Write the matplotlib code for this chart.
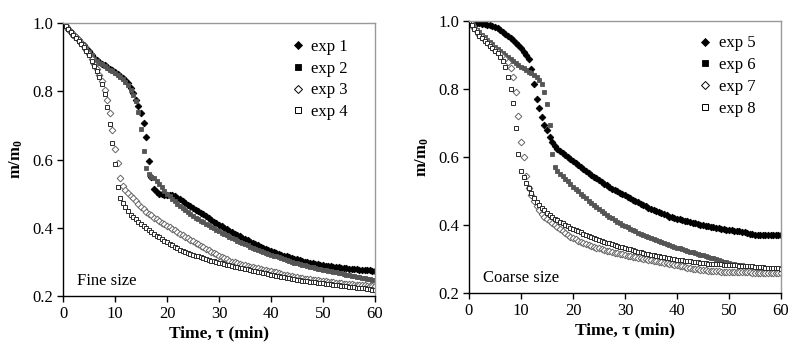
import numpy as np
import matplotlib
matplotlib.use("Agg")
import matplotlib.pyplot as plt
from matplotlib.lines import Line2D

plt.rcParams['font.family'] = ['Liberation Serif', 'DejaVu Serif']
plt.rcParams['mathtext.fontset'] = 'custom'
plt.rcParams['mathtext.rm'] = 'Liberation Serif'
plt.rcParams['mathtext.bf'] = 'Liberation Serif:bold'

# time grid (min)
time_min = np.arange(0, 60.5, 0.5)

exp1 = [1.000, 0.991, 0.983, 0.974, 0.965, 0.958, 0.950, 0.942, 0.935, 0.927,
        0.918, 0.907, 0.897, 0.891, 0.886, 0.881, 0.876, 0.870, 0.865, 0.861,
        0.856, 0.851, 0.845, 0.839, 0.832, 0.823, 0.810, 0.795, 0.775, 0.756,
        0.735, 0.706, 0.665, 0.595, 0.550, 0.515, 0.505, 0.500, 0.498, 0.497,
        0.497, 0.497, 0.496, 0.492, 0.488, 0.483, 0.478, 0.473, 0.468, 0.463,
        0.458, 0.453, 0.448, 0.444, 0.439, 0.433, 0.428, 0.423, 0.418, 0.413,
        0.409, 0.404, 0.400, 0.395, 0.391, 0.387, 0.383, 0.379, 0.375, 0.371,
        0.367, 0.363, 0.359, 0.355, 0.352, 0.348, 0.345, 0.342, 0.339, 0.336,
        0.333, 0.330, 0.327, 0.324, 0.321, 0.318, 0.316, 0.313, 0.311, 0.309,
        0.307, 0.305, 0.303, 0.301, 0.299, 0.297, 0.296, 0.294, 0.293, 0.291,
        0.290, 0.289, 0.288, 0.287, 0.286, 0.285, 0.284, 0.283, 0.282, 0.281,
        0.280, 0.279, 0.278, 0.278, 0.277, 0.276, 0.276, 0.275, 0.275, 0.274,
        0.273]
exp2 = [1.000, 0.990, 0.982, 0.973, 0.964, 0.956, 0.948, 0.940, 0.932, 0.924,
        0.915, 0.905, 0.895, 0.889, 0.884, 0.879, 0.874, 0.868, 0.863, 0.858,
        0.853, 0.848, 0.842, 0.836, 0.828, 0.818, 0.805, 0.789, 0.770, 0.740,
        0.690, 0.625, 0.575, 0.558, 0.550, 0.545, 0.538, 0.528, 0.518, 0.508,
        0.499, 0.492, 0.485, 0.477, 0.470, 0.463, 0.457, 0.451, 0.445, 0.440,
        0.434, 0.430, 0.425, 0.420, 0.416, 0.411, 0.407, 0.402, 0.398, 0.394,
        0.390, 0.386, 0.382, 0.378, 0.374, 0.370, 0.366, 0.362, 0.359, 0.355,
        0.352, 0.348, 0.345, 0.342, 0.339, 0.336, 0.333, 0.330, 0.327, 0.324,
        0.321, 0.318, 0.316, 0.313, 0.311, 0.308, 0.306, 0.303, 0.301, 0.298,
        0.296, 0.294, 0.292, 0.290, 0.288, 0.286, 0.284, 0.282, 0.280, 0.278,
        0.277, 0.275, 0.274, 0.272, 0.271, 0.269, 0.268, 0.266, 0.265, 0.263,
        0.262, 0.260, 0.259, 0.257, 0.256, 0.254, 0.253, 0.251, 0.250, 0.248,
        0.247]
exp3 = [1.000, 0.990, 0.982, 0.975, 0.967, 0.958, 0.950, 0.941, 0.932, 0.921,
        0.908, 0.894, 0.879, 0.864, 0.849, 0.830, 0.805, 0.775, 0.735, 0.685,
        0.630, 0.590, 0.545, 0.522, 0.512, 0.503, 0.494, 0.486, 0.477, 0.469,
        0.461, 0.454, 0.447, 0.441, 0.436, 0.430, 0.425, 0.420, 0.415, 0.410,
        0.406, 0.401, 0.397, 0.392, 0.388, 0.383, 0.379, 0.374, 0.370, 0.365,
        0.361, 0.356, 0.352, 0.347, 0.343, 0.338, 0.334, 0.330, 0.326, 0.322,
        0.318, 0.314, 0.310, 0.307, 0.304, 0.301, 0.299, 0.297, 0.295, 0.292,
        0.290, 0.288, 0.286, 0.284, 0.283, 0.281, 0.279, 0.277, 0.276, 0.274,
        0.272, 0.270, 0.269, 0.267, 0.265, 0.263, 0.262, 0.260, 0.259, 0.257,
        0.256, 0.254, 0.253, 0.251, 0.250, 0.249, 0.248, 0.247, 0.246, 0.245,
        0.244, 0.243, 0.242, 0.241, 0.240, 0.239, 0.238, 0.237, 0.236, 0.235,
        0.235, 0.234, 0.233, 0.233, 0.232, 0.231, 0.231, 0.230, 0.229, 0.229,
        0.228]
exp4 = [1.000, 0.990, 0.981, 0.973, 0.965, 0.956, 0.948, 0.939, 0.930, 0.918,
        0.905, 0.890, 0.875, 0.860, 0.842, 0.820, 0.792, 0.755, 0.705, 0.648,
        0.588, 0.520, 0.488, 0.472, 0.460, 0.448, 0.438, 0.431, 0.425, 0.418,
        0.412, 0.406, 0.400, 0.394, 0.388, 0.382, 0.377, 0.372, 0.367, 0.362,
        0.357, 0.352, 0.348, 0.344, 0.340, 0.336, 0.333, 0.330, 0.327, 0.324,
        0.321, 0.318, 0.316, 0.313, 0.311, 0.308, 0.306, 0.304, 0.302, 0.300,
        0.298, 0.296, 0.294, 0.292, 0.290, 0.288, 0.286, 0.284, 0.283, 0.281,
        0.279, 0.278, 0.276, 0.274, 0.273, 0.271, 0.270, 0.268, 0.267, 0.265,
        0.263, 0.262, 0.260, 0.259, 0.257, 0.256, 0.254, 0.253, 0.251, 0.250,
        0.248, 0.247, 0.245, 0.244, 0.243, 0.242, 0.241, 0.240, 0.239, 0.238,
        0.237, 0.236, 0.235, 0.234, 0.233, 0.232, 0.231, 0.230, 0.229, 0.228,
        0.227, 0.226, 0.225, 0.224, 0.223, 0.223, 0.222, 0.221, 0.220, 0.219,
        0.218]
exp5 = [1.000, 0.998, 0.996, 0.994, 0.993, 0.991, 0.990, 0.988, 0.987, 0.985,
        0.983, 0.979, 0.974, 0.969, 0.963, 0.957, 0.951, 0.944, 0.936, 0.928,
        0.920, 0.910, 0.900, 0.887, 0.860, 0.815, 0.772, 0.745, 0.717, 0.695,
        0.680, 0.660, 0.643, 0.633, 0.625, 0.618, 0.612, 0.606, 0.600, 0.594,
        0.588, 0.582, 0.576, 0.570, 0.564, 0.558, 0.553, 0.547, 0.542, 0.537,
        0.532, 0.527, 0.522, 0.517, 0.512, 0.507, 0.503, 0.499, 0.495, 0.491,
        0.487, 0.483, 0.479, 0.475, 0.471, 0.467, 0.463, 0.459, 0.455, 0.451,
        0.447, 0.443, 0.440, 0.437, 0.434, 0.431, 0.428, 0.425, 0.423, 0.421,
        0.419, 0.417, 0.415, 0.413, 0.411, 0.409, 0.407, 0.405, 0.403, 0.401,
        0.399, 0.397, 0.396, 0.394, 0.393, 0.391, 0.390, 0.388, 0.387, 0.386,
        0.385, 0.384, 0.383, 0.382, 0.381, 0.380, 0.378, 0.376, 0.375, 0.373,
        0.372, 0.371, 0.370, 0.370, 0.370, 0.370, 0.370, 0.370, 0.370, 0.370,
        0.370]
exp6 = [1.000, 0.990, 0.982, 0.975, 0.968, 0.960, 0.952, 0.945, 0.938, 0.931,
        0.925, 0.918, 0.912, 0.906, 0.900, 0.894, 0.888, 0.882, 0.876, 0.871,
        0.866, 0.861, 0.856, 0.851, 0.846, 0.840, 0.834, 0.827, 0.815, 0.790,
        0.755, 0.695, 0.610, 0.570, 0.560, 0.551, 0.543, 0.535, 0.528, 0.520,
        0.513, 0.506, 0.499, 0.492, 0.485, 0.478, 0.472, 0.465, 0.459, 0.453,
        0.447, 0.441, 0.436, 0.430, 0.425, 0.420, 0.415, 0.410, 0.405, 0.401,
        0.397, 0.393, 0.389, 0.385, 0.381, 0.377, 0.374, 0.370, 0.367, 0.364,
        0.361, 0.358, 0.355, 0.352, 0.349, 0.346, 0.343, 0.340, 0.338, 0.335,
        0.333, 0.331, 0.329, 0.326, 0.324, 0.322, 0.320, 0.317, 0.315, 0.313,
        0.311, 0.309, 0.307, 0.304, 0.302, 0.299, 0.297, 0.294, 0.292, 0.290,
        0.288, 0.286, 0.285, 0.283, 0.282, 0.281, 0.280, 0.279, 0.278, 0.277,
        0.276, 0.275, 0.275, 0.274, 0.274, 0.273, 0.273, 0.272, 0.272, 0.271,
        0.271]
exp7 = [1.000, 0.990, 0.980, 0.970, 0.960, 0.952, 0.944, 0.937, 0.930, 0.923,
        0.916, 0.909, 0.902, 0.895, 0.888, 0.878, 0.862, 0.835, 0.790, 0.720,
        0.645, 0.600, 0.545, 0.510, 0.487, 0.470, 0.455, 0.443, 0.433, 0.425,
        0.418, 0.411, 0.405, 0.399, 0.393, 0.387, 0.381, 0.376, 0.371, 0.366,
        0.362, 0.358, 0.354, 0.350, 0.347, 0.344, 0.341, 0.338, 0.336, 0.333,
        0.331, 0.329, 0.327, 0.325, 0.323, 0.321, 0.319, 0.317, 0.316, 0.314,
        0.312, 0.310, 0.309, 0.307, 0.305, 0.303, 0.302, 0.300, 0.299, 0.297,
        0.296, 0.294, 0.293, 0.291, 0.290, 0.288, 0.287, 0.285, 0.284, 0.282,
        0.281, 0.279, 0.278, 0.276, 0.275, 0.273, 0.272, 0.271, 0.270, 0.269,
        0.268, 0.267, 0.266, 0.265, 0.265, 0.264, 0.264, 0.263, 0.263, 0.263,
        0.263, 0.262, 0.262, 0.262, 0.262, 0.261, 0.261, 0.261, 0.261, 0.260,
        0.260, 0.260, 0.260, 0.259, 0.259, 0.259, 0.259, 0.258, 0.258, 0.258,
        0.258]
exp8 = [1.000, 0.988, 0.977, 0.967, 0.957, 0.949, 0.941, 0.934, 0.927, 0.920,
        0.913, 0.905, 0.895, 0.882, 0.865, 0.835, 0.800, 0.760, 0.685, 0.610,
        0.560, 0.540, 0.525, 0.508, 0.493, 0.480, 0.468, 0.458, 0.450, 0.443,
        0.436, 0.430, 0.425, 0.419, 0.414, 0.409, 0.405, 0.400, 0.396, 0.392,
        0.388, 0.384, 0.381, 0.378, 0.375, 0.372, 0.369, 0.366, 0.363, 0.360,
        0.357, 0.354, 0.351, 0.348, 0.346, 0.343, 0.341, 0.338, 0.336, 0.334,
        0.332, 0.330, 0.328, 0.326, 0.324, 0.322, 0.320, 0.318, 0.316, 0.314,
        0.313, 0.311, 0.310, 0.308, 0.307, 0.305, 0.304, 0.302, 0.301, 0.299,
        0.298, 0.297, 0.296, 0.295, 0.294, 0.293, 0.292, 0.291, 0.290, 0.289,
        0.288, 0.287, 0.286, 0.286, 0.285, 0.285, 0.284, 0.284, 0.283, 0.283,
        0.282, 0.282, 0.281, 0.281, 0.280, 0.280, 0.279, 0.279, 0.278, 0.278,
        0.277, 0.277, 0.276, 0.276, 0.275, 0.275, 0.274, 0.274, 0.273, 0.273,
        0.272]

labels_fine = ["exp 1", "exp 2", "exp 3", "exp 4"]
labels_coarse = ["exp 5", "exp 6", "exp 7", "exp 8"]
panel_titles = ["Fine size", "Coarse size"]
xticks = [0, 10, 20, 30, 40, 50, 60]
yticks = [0.2, 0.4, 0.6, 0.8, 1.0]

styles = [
    dict(marker='D', ms=3.4, mfc='black', mec='black', mew=0.6),
    dict(marker='s', ms=3.4, mfc='#555555', mec='#555555', mew=0.6),
    dict(marker='D', ms=3.4, mfc='white', mec='#666666', mew=0.7),
    dict(marker='s', ms=3.4, mfc='white', mec='#2a2a2a', mew=0.7),
]
leg_styles = [
    dict(marker='D', ms=4.5, mfc='black', mec='black', mew=0.6),
    dict(marker='s', ms=5, mfc='black', mec='black', mew=0.6),
    dict(marker='D', ms=4.5, mfc='white', mec='black', mew=0.7),
    dict(marker='s', ms=5, mfc='white', mec='black', mew=0.7),
]

fig = plt.figure(figsize=(8.08, 3.56), dpi=100)
ax1 = fig.add_axes([63/808, 1-296/356, 312/808, 273/356])
ax2 = fig.add_axes([469/808, 1-293/356, 312/808, 272/356])

panels = [(ax1, [exp1, exp2, exp3, exp4], labels_fine, panel_titles[0], (0.95, 0.985)),
          (ax2, [exp5, exp6, exp7, exp8], labels_coarse, panel_titles[1], (0.955, 0.99))]

for ax, series, labels, title, lpos in panels:
    for vals, st in zip(series, styles):
        ax.plot(time_min, vals, linestyle='none', **st)
    ax.set_xlim(0, 60)
    ax.set_ylim(0.2, 1.0)
    ax.set_xticks(xticks)
    ax.set_yticks(yticks)
    ax.set_yticklabels([f"{v:.1f}" for v in yticks])
    ax.tick_params(direction='out', length=4, width=1, labelsize=12, pad=3)
    for s in ['top', 'right']:
        ax.spines[s].set_color('#999999')
        ax.spines[s].set_linewidth(1)
    for s in ['left', 'bottom']:
        ax.spines[s].set_color('black')
        ax.spines[s].set_linewidth(1)
    ax.set_xlabel("Time, τ (min)", fontsize=12.5, fontweight='bold', labelpad=3)
    ax.set_ylabel(r"$\mathbf{m/m_0}$", fontsize=12, labelpad=5)
    ax.text(0.045, 0.025, title, transform=ax.transAxes, fontsize=12,
            ha='left', va='bottom')
    handles = [Line2D([], [], linestyle='none', **st) for st in leg_styles]
    ax.legend(handles, labels, loc='upper right', bbox_to_anchor=lpos,
              frameon=False, fontsize=12, handlelength=0.6, handletextpad=0.5,
              labelspacing=0.35, borderpad=0.2)

fig.savefig("out.png", dpi=100)
